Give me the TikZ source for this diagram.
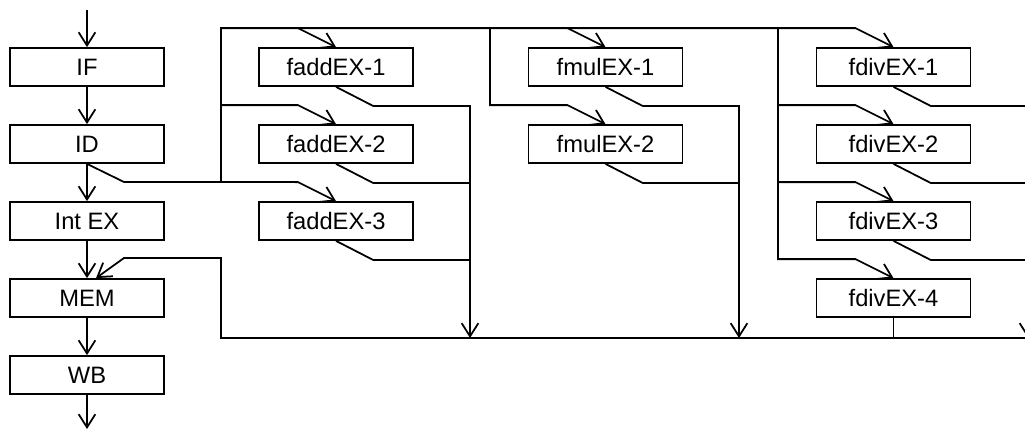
\documentclass[tikz,border=0pt]{standalone}
\usepackage{fontspec}
\setmainfont{Liberation Sans}
\usetikzlibrary{arrows.meta, calc}

\begin{document}
\begin{tikzpicture}[>={Straight Barb[length=7.5pt,width=9.5pt]},line width=1pt,node distance=1.54cm,
        stage/.style={draw, rectangle, minimum width=3.08cm, minimum height=0.76cm, inner sep=0pt,
                      font=\fontsize{13.5}{15}\selectfont}]
            
                \useasboundingbox (0,0) rectangle (20.5,-8.6);
            
                \node[stage] (IF) at (1.74,-1.34) {IF};
                \node[stage] (ID) [below of=IF] {ID};
                \node[stage] (IntEX) [below of=ID] {Int EX};
                \node[stage] (MEM) [below of=IntEX] {MEM};
                \node[stage] (WB) [below of=MEM] {WB};
                
                \node[stage] (fadd1) at (6.72,-1.34) {faddEX-1};
                \node[stage] (fadd2) [below of=fadd1] {faddEX-2};
                \node[stage] (fadd3) [below of=fadd2] {faddEX-3};
                \node[stage] (fmul1) at (12.11,-1.34) {fmulEX-1};
                \node[stage] (fmul2) [below of=fmul1] {fmulEX-2};
                \node[stage] (fdiv1) at (17.87,-1.34) {fdivEX-1};
                \node[stage] (fdiv2) [below of=fdiv1] {fdivEX-2};
                \node[stage] (fdiv3) [below of=fdiv2] {fdivEX-3};
                \node[stage] (fdiv4) [below of=fdiv3] {fdivEX-4};
                
                % entry and exit points of the fp units
                \foreach \n in {fadd1,fadd2,fadd3,fmul1,fmul2,fdiv1,fdiv2,fdiv3,fdiv4}{
                    \coordinate (\n-in) at ($(\n.north)+(-0.76,0.38)$);
                    \coordinate (\n-out) at ($(\n.south)+(0.74,-0.38)$);
                }
                
                \coordinate (in) at (1.74,-0.2);
                \coordinate (out) at (1.74,-8.58);
                \coordinate (iss) at (2.48,-3.64);
                \coordinate (spine) at (4.42,-3.64);
                \coordinate (mulsplit) at (9.8,-0.58);
                \coordinate (divsplit) at (15.56,-0.58);
                \coordinate (addwb) at (9.4,-6.76);
                \coordinate (mulwb) at (14.78,-6.76);
                \coordinate (divwb) at (20.56,-6.76);
                \coordinate (busend) at (21,-6.76);
                \coordinate (busleft) at (4.42,-6.76);
                \coordinate (fwd) at (2.48,-5.16);
                
                % integer pipe
                \draw[->] (in) -- (IF);
                \draw[->] (IF) -- (ID);
                \draw[->] (ID) -- (IntEX);
                \draw[->] (IntEX) -- (MEM);
                \draw[->] (MEM) -- (WB);
                \draw[->] (WB) -- (out);
                
                % issue to fp units
                \draw[->] (ID.south) -- (iss) -- (fadd3-in) -- (fadd3.north);
                \draw[->] (spine) |- (fdiv1-in) -- (fdiv1.north);
                \draw[->] (fadd1-in) -- (fadd1.north);
                \draw[->] (spine |- fadd2-in) -- (fadd2-in) -- (fadd2.north);
                \draw[->] (fmul1-in) -- (fmul1.north);
                \draw[->] (mulsplit) |- (fmul2-in) -- (fmul2.north);
                \draw[->] (divsplit) |- (fdiv4-in) -- (fdiv4.north);
                \draw[->] (divsplit |- fdiv2-in) -- (fdiv2-in) -- (fdiv2.north);
                \draw[->] (divsplit |- fdiv3-in) -- (fdiv3-in) -- (fdiv3.north);
                
                % results
                \draw[->] (fadd1.south) -- (fadd1-out) -| (addwb);
                \draw (fadd2.south) -- (fadd2-out) -- (addwb |- fadd2-out);
                \draw (fadd3.south) -- (fadd3-out) -- (addwb |- fadd3-out);
                \draw[->] (fmul1.south) -- (fmul1-out) -| (mulwb);
                \draw (fmul2.south) -- (fmul2-out) -- (mulwb |- fmul2-out);
                \draw[->] (fdiv1.south) -- (fdiv1-out) -| (divwb);
                \draw (fdiv2.south) -- (fdiv2-out) -- (divwb |- fdiv2-out);
                \draw (fdiv3.south) -- (fdiv3-out) -- (divwb |- fdiv3-out);
                \draw (fdiv4.south) -- (fdiv4.south |- busend);
                
                % write back into MEM
                \draw[->] (busend) -- (busleft) -- (busleft |- fwd) -- (fwd) -- ([xshift=0.18cm]MEM.north);
            \end{tikzpicture}
\end{document}
